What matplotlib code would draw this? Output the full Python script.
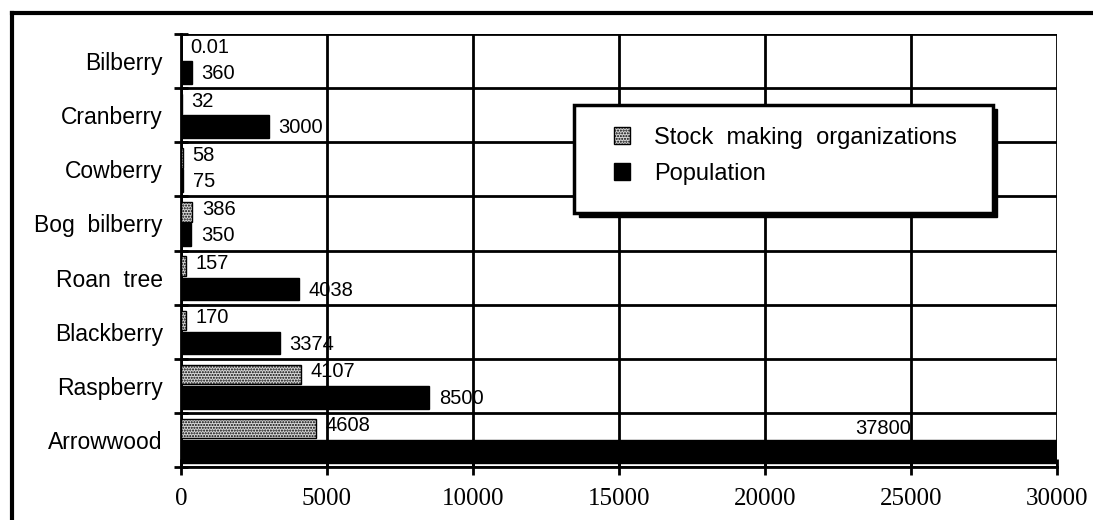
import matplotlib.pyplot as plt
import matplotlib.patches as mpatches
from matplotlib.lines import Line2D
import numpy as np

# data
categories = ["Bilberry", "Cranberry", "Cowberry", "Bog  bilberry",
              "Roan  tree", "Blackberry", "Raspberry", "Arrowwood"]
stock_orgs = [0.01, 32, 58, 386, 157, 170, 4107, 4608]
population = [360, 3000, 75, 350, 4038, 3374, 8500, 37800]
stock_labels = ["0.01", "32", "58", "386", "157", "170", "4107", "4608"]
pop_labels = ["360", "3000", "75", "350", "4038", "3374", "8500", "37800"]
x_ticks = [0, 5000, 10000, 15000, 20000, 25000, 30000]

xmax = 30000
sans = "Liberation Sans"
serif = "Liberation Serif"

fig = plt.figure(figsize=(10.93, 5.2), dpi=100)
ax = fig.add_axes([0.1656, 0.102, 0.8014, 0.8325])

y = np.arange(len(categories))
off = 0.21
b1 = ax.barh(y - off, stock_orgs, height=0.36, color="#d8d8d8", edgecolor="black",
             linewidth=1, hatch="......", zorder=3, label="Stock  making  organizations")
b2 = ax.barh(y + off, population, height=0.42, color="black", edgecolor="black",
             zorder=3, label="Population")

# value labels
for i in range(len(categories)):
    ax.annotate(stock_labels[i], (stock_orgs[i], y[i] - off - 0.05), xytext=(7, 0),
                textcoords="offset points", va="center", ha="left",
                fontsize=14.5, family=sans, zorder=4)
    if population[i] > xmax:
        ax.text(xmax * 0.77, y[i] - off, pop_labels[i], va="center", ha="left",
                fontsize=14.5, family=sans, zorder=4)
    else:
        ax.annotate(pop_labels[i], (population[i], y[i] + off + 0.02), xytext=(7, 0),
                    textcoords="offset points", va="center", ha="left",
                    fontsize=14.5, family=sans, zorder=4)

ax.set_xlim(0, xmax)
ax.set_ylim(len(categories) - 0.5, -0.5)
ax.set_xticks(x_ticks)
ax.set_xticklabels([str(t) for t in x_ticks], family=serif, fontsize=18)
ax.set_yticks(y)
ax.set_yticklabels(categories, family=sans, fontsize=16.5)
ax.set_yticks(np.arange(-0.5, len(categories)), minor=True)
ax.tick_params(axis="y", which="major", length=0, pad=13)
ax.tick_params(axis="y", which="minor", length=10, width=2, direction="inout")
ax.tick_params(axis="x", which="major", length=12, width=2, direction="inout", pad=9)

ax.grid(True, axis="x", which="major", color="black", linewidth=2, zorder=1)
ax.grid(True, axis="y", which="minor", color="black", linewidth=2, zorder=1)
ax.set_axisbelow(True)
for s in ["top", "right"]:
    ax.spines[s].set_visible(False)
for s in ["left", "bottom"]:
    ax.spines[s].set_linewidth(2)

# legend box with heavy shadow
shadow = mpatches.Rectangle((0.454, 0.577), 0.478, 0.249, transform=ax.transAxes,
                            facecolor="black", edgecolor="black", zorder=5)
box = mpatches.Rectangle((0.449, 0.587), 0.478, 0.249, transform=ax.transAxes,
                         facecolor="white", edgecolor="black", linewidth=2.5, zorder=6)
ax.add_patch(shadow)
ax.add_patch(box)
leg = ax.legend(handles=[b1, b2], loc="upper left", bbox_to_anchor=(0.47, 0.835),
                frameon=False, prop={"family": sans, "size": 17},
                handlelength=0.7, handleheight=0.7, handletextpad=1.0, labelspacing=0.6)
leg.set_zorder(7)

# outer frame of the scanned figure
fig.add_artist(Line2D([0.011, 0.011], [0.0, 0.975], transform=fig.transFigure,
                      color="black", linewidth=3))
fig.add_artist(Line2D([0.011, 1.0], [0.975, 0.975], transform=fig.transFigure,
                      color="black", linewidth=3))

fig.savefig("out.png", dpi=100)
